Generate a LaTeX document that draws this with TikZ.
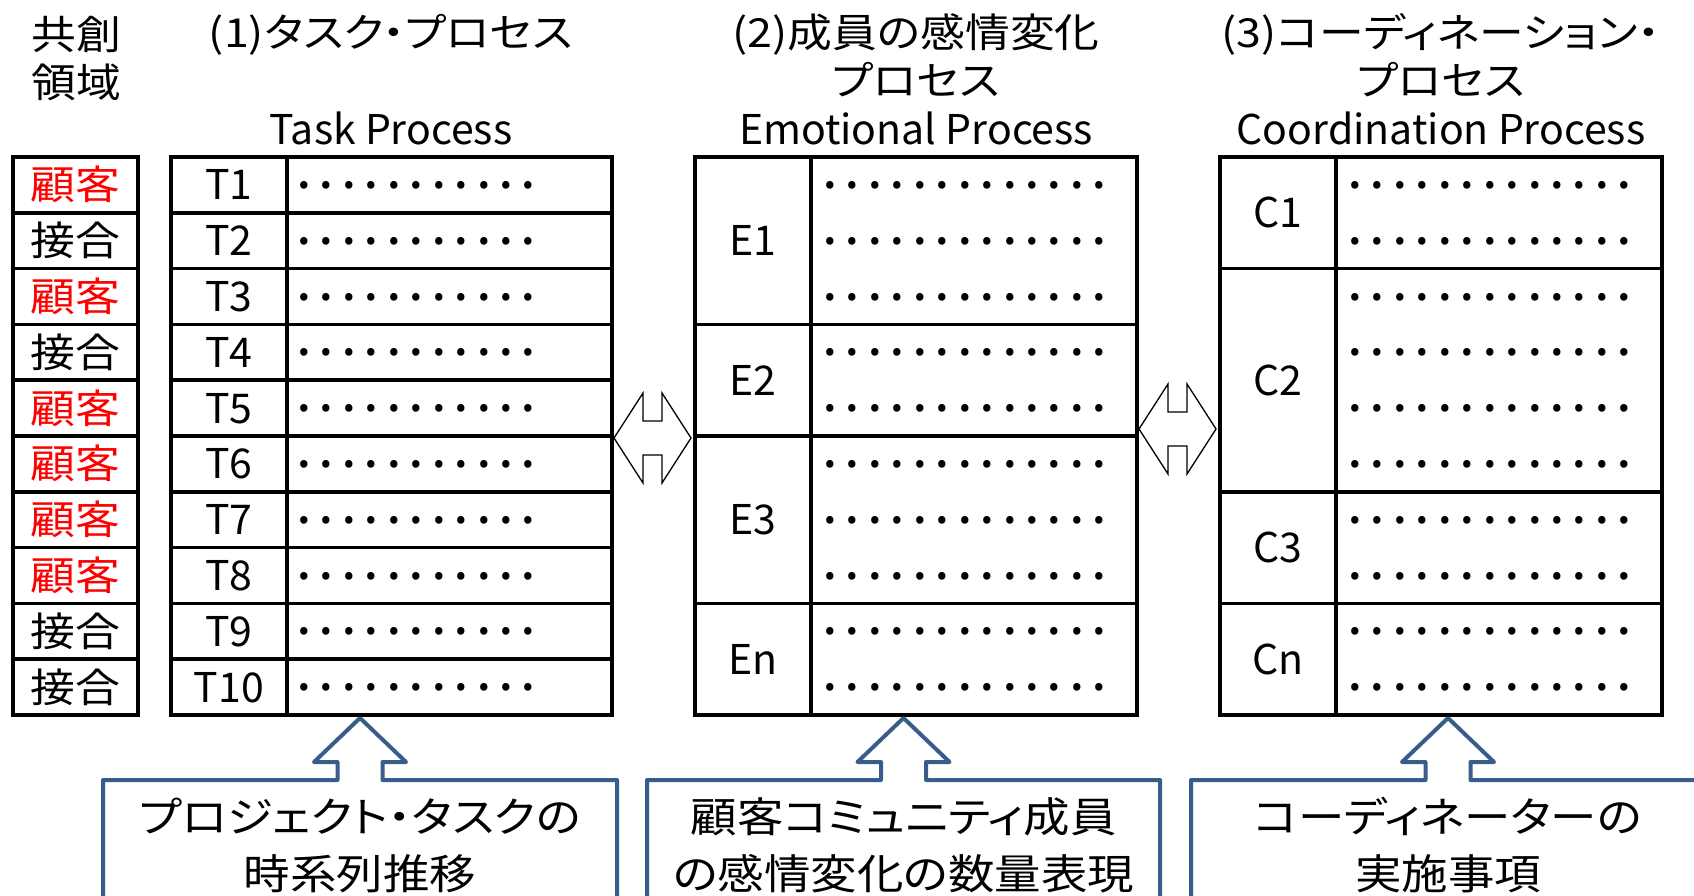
\documentclass[tikz,border=0pt]{standalone}
\usepackage{fontspec}
\usetikzlibrary{calc}
\newfontfamily\jpf[FakeStretch=1.12,RawFeature={+palt}]{Noto Sans CJK JP}
\newfontfamily\laf{Noto Sans CJK JP}
\definecolor{boxblue}{RGB}{56,93,138}
\definecolor{jred}{RGB}{255,0,0}
\newcommand\dotrow[1]{\foreach\k in {1,...,#1}{\makebox[22.45pt]{.}}}
\begin{document}
\begin{tikzpicture}[x=1pt,y=-1pt,
  tbl/.style={draw=black,line width=3.5pt,inner sep=0pt},
  jtxt/.style={font=\jpf\fontsize{40}{48}\selectfont,inner sep=0pt,anchor=base},
  btxt/.style={font=\jpf\fontsize{41.5}{48}\selectfont,inner sep=0pt,anchor=base},
  ltxt/.style={font=\laf\fontsize{41}{48}\selectfont,inner sep=0pt,anchor=base},
  dotsx/.style={font=\laf\fontsize{56}{60}\selectfont,inner sep=0pt,anchor=base west},
  dbl/.style={draw=black,line width=1.3pt,fill=white,line join=miter},
  callout/.style={draw=boxblue,line width=4pt,line join=round,fill=white}]
\useasboundingbox (0,0) rectangle (1694,896);
\clip (0,0) rectangle (1694,896);
% ---------- headers
\node[jtxt] (k1) at (76,50) {共創};
\node[jtxt] (k2) at (76,98) {領域};
\node[jtxt] (h1a) at (391,48) {(1)タスク・プロセス};
\node[ltxt] (h1b) at (391,145) {Task Process};
\node[jtxt] (h2a) at (916,48) {(2)成員の感情変化};
\node[jtxt] (h2b) at (916,96) {プロセス};
\node[ltxt] (h2c) at (916,145) {Emotional Process};
\node[jtxt] (h3a) at (1441,48) {(3)コーディネーション・};
\node[jtxt] (h3b) at (1441,96) {プロセス};
\node[ltxt] (h3c) at (1441,145) {Coordination Process};
% ---------- left column and task table
\foreach \i/\t/\c in {1/顧客/jred,2/接合/black,3/顧客/jred,4/接合/black,5/顧客/jred,6/顧客/jred,7/顧客/jred,8/顧客/jred,9/接合/black,10/接合/black}{
  \node[tbl,minimum width=125pt,minimum height=55.8pt] (L\i) at (75.5,{157+(\i-0.5)*55.8}) {};
  \node[jtxt,text=\c] (Lt\i) at (75.5,{157+(\i-0.5)*55.8+15}) {\t};
  \node[tbl,minimum width=116pt,minimum height=55.8pt] (T\i) at (229,{157+(\i-0.5)*55.8}) {};
  \node[ltxt] (Tt\i) at (229,{157+(\i-0.5)*55.8+15}) {T\i};
  \node[tbl,minimum width=325pt,minimum height=55.8pt] (TC\i) at (449.5,{157+(\i-0.5)*55.8}) {};
  \node[dotsx] (Td\i) at (292.8,{157+(\i-0.5)*55.8+3.5}) {\dotrow{11}};
}
% ---------- emotional table
\foreach \n/\a/\b in {E1/157/324.4,E2/324.4/436,E3/436/603.4,En/603.4/715}{
  \node[tbl,minimum width=116pt,minimum height={(\b-\a)*1pt}] (\n) at (753,{(\a+\b)/2}) {};
  \node[ltxt] (\n t) at (753,{(\a+\b)/2+15}) {\n};
  \node[tbl,minimum width=326pt,minimum height={(\b-\a)*1pt}] (\n c) at (974,{(\a+\b)/2}) {};
}
% ---------- coordination table
\foreach \n/\a/\b in {C1/157/268.6,C2/268.6/491.8,C3/491.8/603.4,Cn/603.4/715}{
  \node[tbl,minimum width=116pt,minimum height={(\b-\a)*1pt}] (\n) at (1278,{(\a+\b)/2}) {};
  \node[ltxt] (\n t) at (1278,{(\a+\b)/2+15}) {\n};
  \node[tbl,minimum width=326pt,minimum height={(\b-\a)*1pt}] (\n c) at (1499,{(\a+\b)/2}) {};
}
\foreach \i in {1,...,10}{
  \node[dotsx] (Ed\i) at (818.8,{157+(\i-0.5)*55.8+3.5}) {\dotrow{13}};
  \node[dotsx] (Cd\i) at (1343.8,{157+(\i-0.5)*55.8+3.5}) {\dotrow{13}};
}
% ---------- double arrows between tables
\coordinate (d1) at (652.5,438);
\coordinate (d2) at (1177.5,429);
\foreach \d in {d1,d2}{
  \draw[dbl] ($(\d)+(-38.5,0)$) -- ++(29,-45) -- ++(0,28) -- ++(19,0) -- ++(0,-28)
    -- ++(29,45) -- ++(-29,45) -- ++(0,-28) -- ++(-19,0) -- ++(0,28) -- cycle;
}
% ---------- callout boxes with arrows
\coordinate (a1) at (360,718);
\coordinate (a2) at (903.5,718);
\coordinate (a3) at (1448,718);
\foreach \a/\l/\r in {a1/103/617,a2/647/1160,a3/1191/1705}{
  \draw[callout] (\l,905) -- (\l,780) -- ($(\a)+(-22.5,62)$) -- ($(\a)+(-22.5,44)$)
    -- ($(\a)+(-46,44)$) -- (\a) -- ($(\a)+(46,44)$) -- ($(\a)+(22.5,44)$)
    -- ($(\a)+(22.5,62)$) -- (\r,780) -- (\r,905);
}
\node[btxt] (b1a) at (360,832) {プロジェクト・タスクの};
\node[btxt] (b1b) at (360,889) {時系列推移};
\node[btxt] (b2a) at (903.5,832) {顧客コミュニティ成員};
\node[btxt] (b2b) at (903.5,889) {の感情変化の数量表現};
\node[btxt] (b3a) at (1448,832) {コーディネーターの};
\node[btxt] (b3b) at (1448,889) {実施事項};
\end{tikzpicture}
\end{document}
